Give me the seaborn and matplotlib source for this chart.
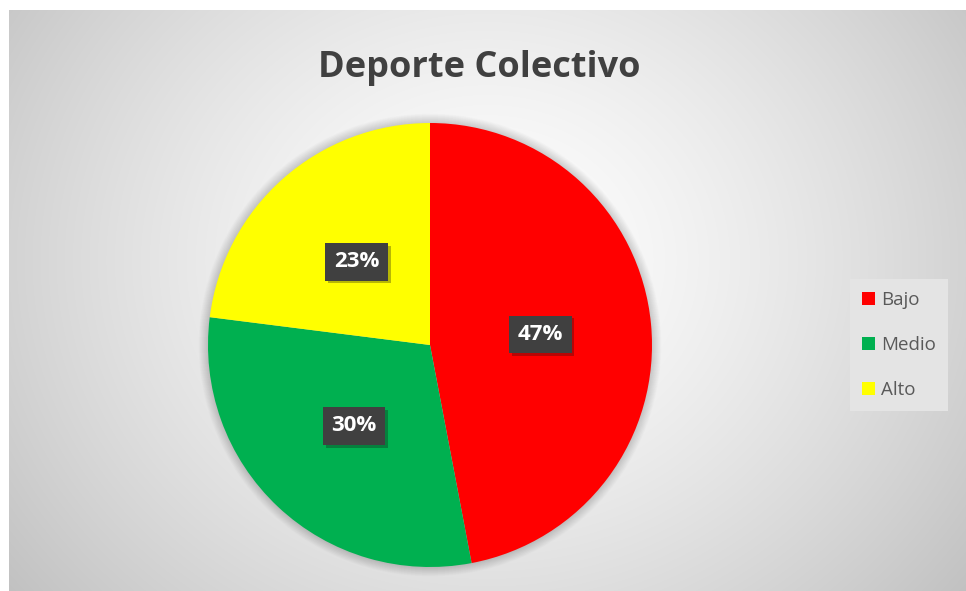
import numpy as np
import seaborn as sns
import matplotlib.pyplot as plt
import matplotlib.patheffects as pe
from matplotlib.patches import Circle

categories = ["Bajo", "Medio", "Alto"]
shares = [47, 30, 23]
colors = ["#FF0000", "#00B050", "#FFFF00"]
title = "Deporte Colectivo"

sns.set_theme(style="white")
plt.rcParams['font.family'] = ['Open Sans', 'DejaVu Sans']

W, H = 966, 591
fig = plt.figure(figsize=(W / 100, H / 100), dpi=100)
fig.patch.set_facecolor("white")

# radial grey gradient behind the chart
bg = fig.add_axes([9 / W, 0, 1 - 9 / W, 1 - 10 / H])
yy, xx = np.mgrid[0:581, 0:957]
d = np.hypot((xx - 478) / 480.0, (yy - 250) / 420.0) / np.hypot(1, 331 / 420)
shade = 255 - 62 * np.clip(d, 0, 1) ** 1.4
bg.imshow(np.dstack([shade] * 3).astype(np.uint8), aspect="auto", interpolation="bilinear")
bg.axis("off")

# pie
cx, cy, r = 430, 345, 222
pad = 1.1
ax = fig.add_axes([(cx - r * pad) / W, (H - cy - r * pad) / H, 2 * r * pad / W, 2 * r * pad / H])
ax.set_facecolor("none")
for i in range(14):
    ax.add_patch(Circle((0, 0), 1 + 0.003 * (i + 1), color="black", alpha=0.012, lw=0, zorder=0))
wedges, texts, autotexts = ax.pie(shares, colors=colors, startangle=90, counterclock=False,
                                  autopct="%1.0f%%", pctdistance=0.5, radius=1,
                                  wedgeprops=dict(linewidth=0))
for t in autotexts:
    t.set_color("white")
    t.set_fontsize(16)
    t.set_fontweight("bold")
    t.set_bbox(dict(boxstyle="square,pad=0.38", fc="#404040", ec="none"))
    t.get_bbox_patch().set_path_effects([pe.SimplePatchShadow(offset=(2, -2), alpha=0.3), pe.Normal()])
ax.set_xlim(-pad, pad)
ax.set_ylim(-pad, pad)
ax.axis("off")

fig.text(479 / W, 1 - 77 / H, title, ha="center", va="baseline",
         fontsize=26, fontweight="bold", color="#404040")

leg = fig.legend(wedges, categories, loc="center left", bbox_to_anchor=(850 / W, 1 - 345 / H),
                 frameon=True, fancybox=False, fontsize=13.5, labelcolor="#595959",
                 handlelength=0.7, handleheight=0.7, handletextpad=0.3, labelspacing=1.45,
                 borderpad=0.65, borderaxespad=0)
leg.get_frame().set_facecolor("#E4E4E4")
leg.get_frame().set_edgecolor("none")
leg.get_frame().set_alpha(1)

fig.savefig("out.png", dpi=100)
